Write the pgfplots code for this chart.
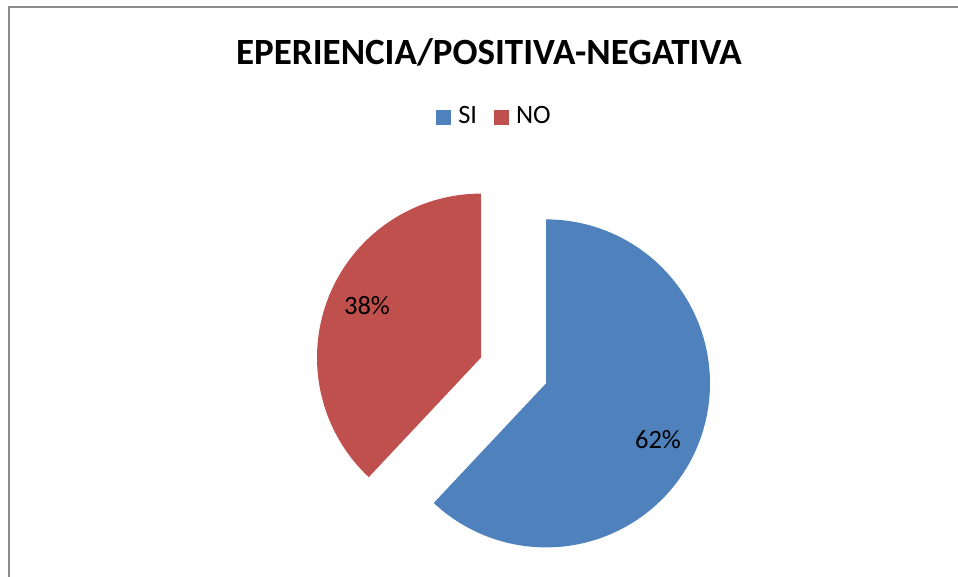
\documentclass[border=0pt]{standalone}
\usepackage{pgfplots}
\pgfplotsset{compat=1.18}
\usepackage{fontspec}
\setmainfont{Carlito}
\definecolor{siblue}{HTML}{4F81BD}
\definecolor{nored}{HTML}{C0504D}
\definecolor{frame}{HTML}{8C8C8C}
\begin{document}
\begin{tikzpicture}
\begin{axis}[
  scale only axis,
  width=958bp, height=577bp,
  xmin=0, xmax=958, ymin=0, ymax=577,
  y dir=reverse,
  hide axis,
  clip=false,
  legend columns=2,
  legend style={draw=none, fill=none,
    font=\fontsize{26.5bp}{30bp}\selectfont,
    nodes={font=\fontsize{26.5bp}{30bp}\selectfont, inner sep=0pt, anchor=base west},
    at={(axis cs:493.5,116)}, anchor=center,
    /tikz/every odd column/.style={column sep=7bp},
    /tikz/every even column/.style={column sep=17bp}},
  legend image code/.code={\fill[#1] (0bp,-1bp) rectangle (15bp,14bp);},
]
\coordinate (BBA) at (axis cs:0,577);
\coordinate (BBB) at (axis cs:958,0);
% frame
\draw[frame, line width=1.6bp] (axis cs:9,577) -- (axis cs:9,7) -- (axis cs:958,7);
% SI 62%
\addplot[fill=siblue, draw=none, domain=-90:(-90+3.6*62), samples=200, variable=\t]
  ({546+164*cos(t)},{383.4+164*sin(t)}) -- (axis cs:546,383.4) -- cycle;
\addlegendentry{SI}
% NO 38%
\addplot[fill=nored, draw=none, domain=(-90+3.6*62):270, samples=150, variable=\t]
  ({481+164*cos(t)},{357.6+164*sin(t)}) -- (axis cs:481,357.6) -- cycle;
\addlegendentry{NO}
\node[font=\fontsize{37bp}{44bp}\selectfont\bfseries] at (axis cs:489,52) {EPERIENCIA/POSITIVA-NEGATIVA};
\node[font=\fontsize{26.5bp}{30bp}\selectfont] at (axis cs:367,306) {38\%};
\node[font=\fontsize{26.5bp}{30bp}\selectfont] at (axis cs:658,440) {62\%};
\end{axis}
\pgfresetboundingbox
\path (BBA) rectangle (BBB);
\end{tikzpicture}
\end{document}
